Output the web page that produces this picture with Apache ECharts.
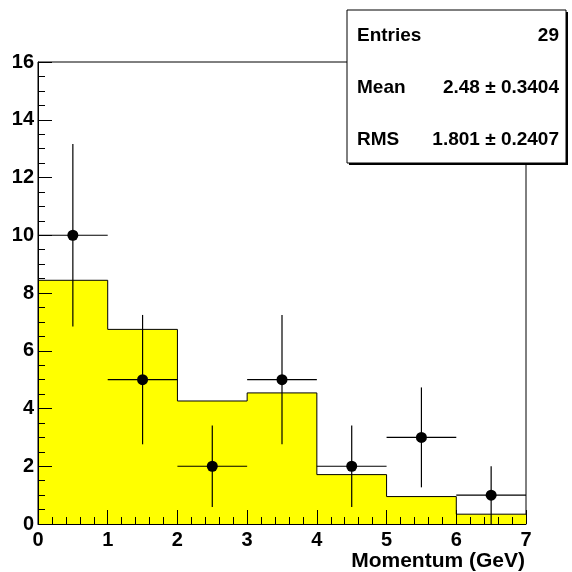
<!DOCTYPE html>
<html>
<head>
<meta charset="utf-8">
<script src="https://cdn.jsdelivr.net/npm/echarts@6/dist/echarts.min.js"></script>
<style>
  html, body { margin: 0; padding: 0; background: #fff; }
  #chart { width: 572px; height: 572px; }
</style>
</head>
<body>
<div id="chart"></div>
<script>
// histogram bins (left edges) and contents
var binEdges = [0, 1, 2, 3, 4, 5, 6, 7]
var binContents = [8.44, 6.74, 4.26, 4.54, 1.71, 0.95, 0.34]
// data points (bin centres) with errors
var pointX = [0.5, 1.5, 2.5, 3.5, 4.5, 5.5, 6.5]
var pointY = [10, 5, 2, 5, 2, 3, 1]
var pointErr = [3.16, 2.24, 1.41, 2.24, 1.41, 1.73, 1.0]
var binHalfWidth = 0.5
// stats box
var statLabels = ['Entries', 'Mean', 'RMS']
var statValues = ['29', '2.48 \u00b1 0.3404', '1.801 \u00b1 0.2407']
var xTitle = 'Momentum (GeV)'

var chart = echarts.init(document.getElementById('chart'), null, { renderer: 'canvas' })

var FONT = 'Liberation Sans, Arial, Helvetica, sans-serif'

var stepData = []
for (var i = 0; i < binContents.length; i++) {
  stepData.push([binEdges[i], binContents[i]])
}
stepData.push([binEdges[binEdges.length - 1], binContents[binContents.length - 1]])

var pointData = []
for (var j = 0; j < pointX.length; j++) {
  pointData.push([pointX[j], pointY[j], pointErr[j]])
}

var statGraphics = [
  { type: 'rect', shape: { x: 349, y: 12, width: 219, height: 153 }, style: { fill: '#000' }, z: 100 },
  { type: 'rect', shape: { x: 347, y: 10, width: 219, height: 153 }, style: { fill: '#fff', stroke: '#000', lineWidth: 1 }, z: 101 },
  // x axis title, right aligned with the axis end
  {
    type: 'text', x: 525, y: 561, z: 102,
    style: { text: xTitle, fill: '#000', font: 'bold 21px ' + FONT, verticalAlign: 'middle', align: 'right' }
  }
]
for (var k = 0; k < statLabels.length; k++) {
  statGraphics.push({
    type: 'text', x: 357, y: 36 + k * 52, z: 102,
    style: { text: statLabels[k], fill: '#000', font: 'bold 19px ' + FONT, verticalAlign: 'middle', align: 'left' }
  })
  statGraphics.push({
    type: 'text', x: 559, y: 36 + k * 52, z: 102,
    style: { text: statValues[k], fill: '#000', font: 'bold 19px ' + FONT, verticalAlign: 'middle', align: 'right' }
  })
}

chart.setOption({
  animation: false,
  grid: {
    left: 38,
    right: 46,
    top: 62,
    bottom: 48,
    containLabel: false,
    outerBoundsMode: 'none',
    show: true,
    borderColor: '#000',
    borderWidth: 1,
    backgroundColor: '#fff'
  },
  xAxis: {
    type: 'value',
    min: 0,
    max: 7,
    interval: 1,
    z: 10,
    axisLine: { show: true, lineStyle: { color: '#000', width: 1 } },
    axisTick: { show: true, inside: true, length: 14, lineStyle: { color: '#000' } },
    minorTick: { show: true, splitNumber: 5, length: 7, lineStyle: { color: '#000' } },
    splitLine: { show: false },
    axisLabel: { color: '#000', fontFamily: FONT, fontWeight: 'bold', fontSize: 20, margin: 6 }
  },
  yAxis: {
    type: 'value',
    min: 0,
    max: 16,
    interval: 2,
    z: 10,
    axisLine: { show: true, lineStyle: { color: '#000', width: 1 } },
    axisTick: { show: true, inside: true, length: 14, lineStyle: { color: '#000' } },
    minorTick: { show: true, splitNumber: 4, length: 7, lineStyle: { color: '#000' } },
    splitLine: { show: false },
    axisLabel: { color: '#000', fontFamily: FONT, fontWeight: 'bold', fontSize: 20, margin: 4 }
  },
  graphic: statGraphics,
  series: [
    {
      type: 'line',
      step: 'end',
      data: stepData,
      symbol: 'none',
      lineStyle: { color: '#000', width: 1 },
      areaStyle: { color: '#ffff00', opacity: 1 },
      z: 1
    },
    {
      type: 'custom',
      data: pointData,
      renderItem: function(params, api) {
        var x = api.value(0)
        var y = api.value(1)
        var e = api.value(2)
        var top = api.coord([x, y + e])
        var bot = api.coord([x, y - e])
        var lft = api.coord([x - binHalfWidth, y])
        var rgt = api.coord([x + binHalfWidth, y])
        var st = { stroke: '#000', lineWidth: 1.2 }
        return {
          type: 'group',
          children: [
            { type: 'line', shape: { x1: top[0], y1: top[1], x2: bot[0], y2: bot[1] }, style: st },
            { type: 'line', shape: { x1: lft[0], y1: lft[1], x2: rgt[0], y2: rgt[1] }, style: st }
          ]
        }
      },
      z: 3
    },
    {
      type: 'scatter',
      data: pointData,
      symbol: 'circle',
      symbolSize: 11,
      itemStyle: { color: '#000', opacity: 1 },
      z: 4
    }
  ]
})
</script>
</body>
</html>
